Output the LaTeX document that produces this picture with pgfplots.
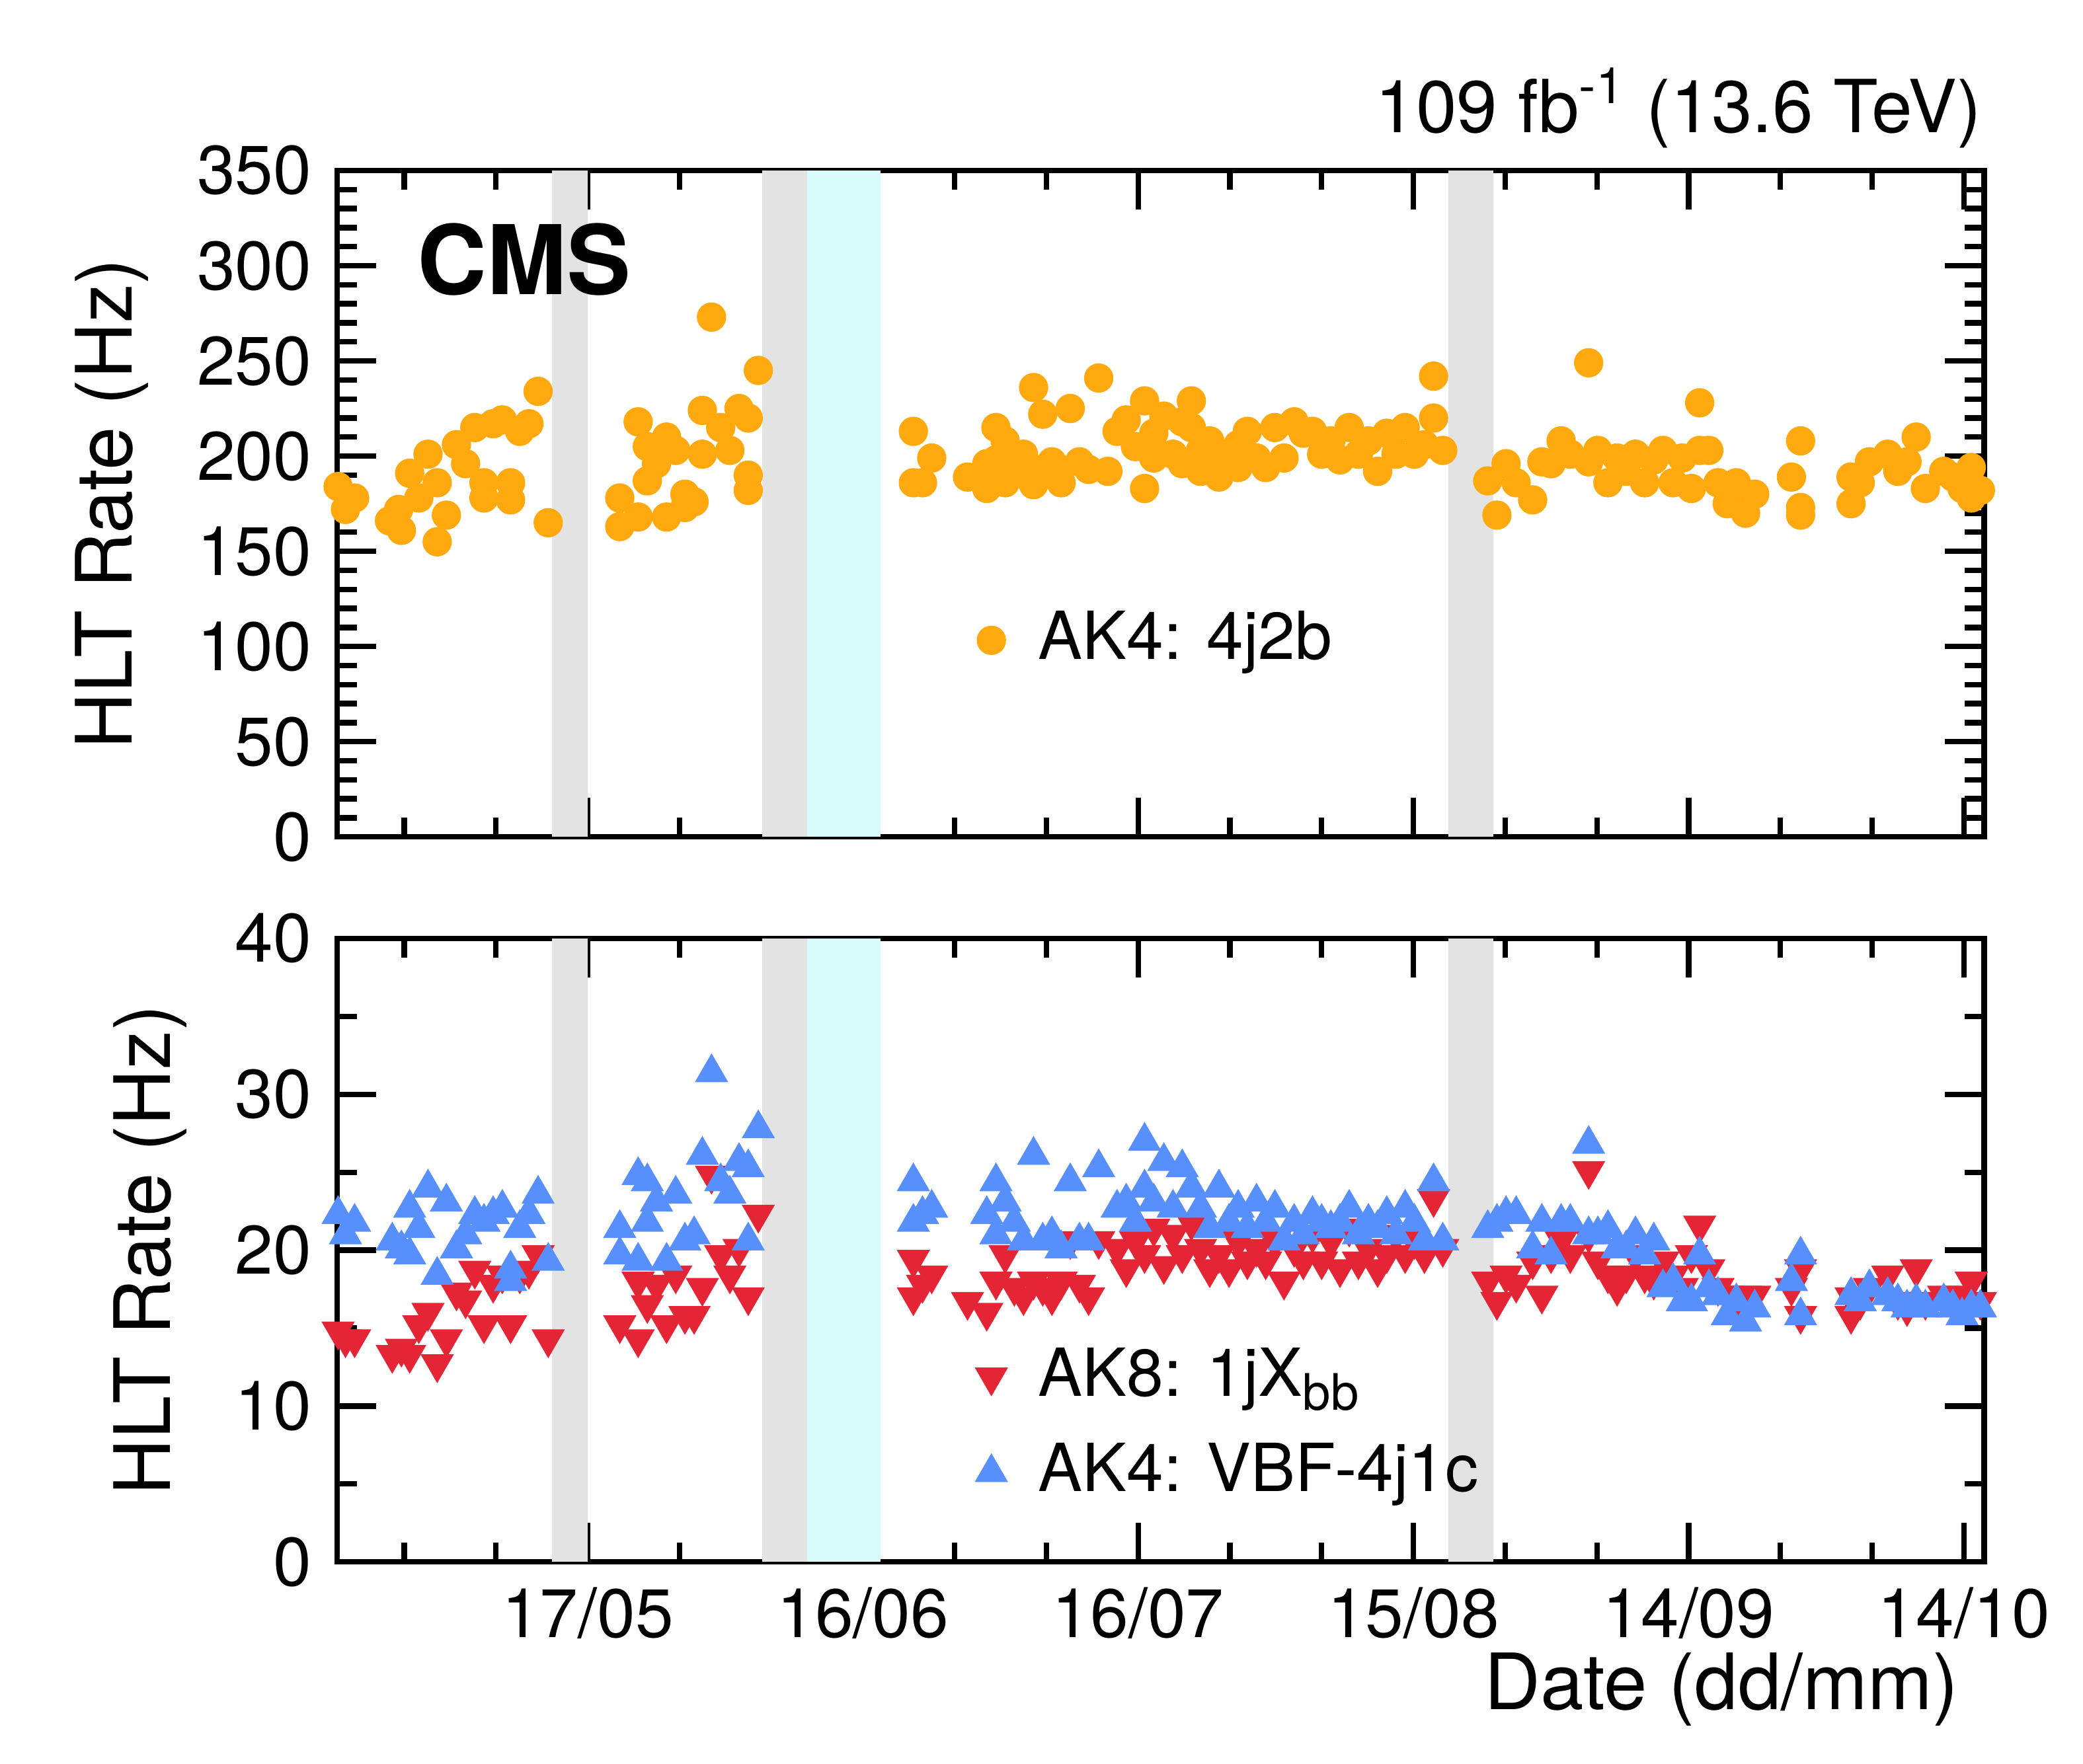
\documentclass[border=0pt]{standalone}
\usepackage{pgfplots}
\pgfplotsset{compat=1.18}
\usepackage{fontspec}
\setmainfont{TeX Gyre Heros}
\definecolor{corange}{HTML}{FFA90E}
\definecolor{cred}{HTML}{E42536}
\definecolor{cblue}{HTML}{5790FC}
\definecolor{ccyan}{HTML}{D8FCFC}
\begin{document}
\fontsize{15}{18}\selectfont
\begin{tikzpicture}
\path (0,0) rectangle (16,13.55);
\pgfplotsset{every axis/.append style={
  scale only axis, width=12.65cm, xmin=-27.3, xmax=152.2,
  xtick={0,30,60,90,120,150}, minor xtick={-20,-10,10,20,40,50,70,80,100,110,130,140},
  tick align=inside, major tick length=0.3cm, minor tick length=0.15cm,
  line width=1.2pt, tick style={line width=1.2pt, black},
  /pgf/number format/assume math mode=true,
  ticklabel style={font=\fontsize{15}{18}\selectfont},
  label style={font=\fontsize{17}{20}\selectfont},
  ylabel style={yshift=0.0cm},
  legend style={draw=none, fill=none, font=\fontsize{14.5}{17}\selectfont, cells={anchor=west}, row sep=4pt},
  legend cell align=left,
  clip mode=individual,
}}
\begin{axis}[at={(2.59cm,7.12cm)}, anchor=south west, height=5.12cm,
  ymin=0, ymax=350, ytick={0,50,...,350}, minor y tick num=4,
  xticklabels={}, ylabel={HLT Rate (Hz)},
  legend style={at={(0.38,0.295)}, anchor=west}]
\fill[gray!22] (axis cs:-3.9,0) rectangle (axis cs:0,350);
\fill[gray!22] (axis cs:19,0) rectangle (axis cs:23.9,350);
\fill[ccyan] (axis cs:23.9,0) rectangle (axis cs:31.9,350);
\fill[gray!22] (axis cs:93.8,0) rectangle (axis cs:98.7,350);
\addplot[only marks, mark=*, mark size=2.6pt, color=corange] coordinates {
(-27.2,184)(-26.4,172)(-25.4,178)(-21.6,166)(-20.6,172)(-20.3,161)(-19.4,191)(-18.4,178)(-17.4,201)(-16.4,186)(-16.4,155)(-15.4,169)(-14.3,206)(-13.3,196)(-12.3,215)(-11.3,186)(-11.3,178)(-10.3,217)(-9.3,219)(-8.4,186)(-8.4,177)(-7.4,213)(-6.4,217)(-5.4,234)(-4.3,165)
(3.5,163)(3.5,178)(5.5,218)(5.5,168)(6.5,205)(6.5,187)(7.5,196)(8.6,210)(8.6,168)(9.6,203)(10.6,180)(10.6,173)(11.6,176)(12.5,224)(12.5,201)(13.5,273)(14.5,215)(15.5,203)(16.5,225)(17.5,220)(17.5,190)(17.5,182)(18.6,245)
(35.5,213)(35.5,186)(36.5,186)(37.5,199)(41.4,189)(43.5,183)(43.5,196)(44.5,215)(44.5,198)(45.5,208)(45.5,186)(46.5,194)(47.5,201)(48.6,185)(48.6,236)(49.6,222)(49.6,193)(50.6,197)(51.6,186)(51.6,193)(52.6,225)(53.6,197)(54.6,193)(55.7,241)(56.7,192)(57.7,213)(58.7,219)(59.7,205)(60.7,229)(60.7,183)(61.7,212)(61.7,199)(62.8,221)(63.8,201)(64.8,218)(64.8,196)(65.8,229)(65.8,215)(66.8,203)(66.8,192)(67.8,208)(68.8,189)(68.8,201)(69.9,199)(70.9,206)(70.9,194)(71.9,213)(72.9,199)(73.9,194)(74.9,215)(75.9,199)(77,218)(78,212)(79,213)(80,201)(81,208)(82,198)(83,215)(84,201)(85.1,208)(86.1,192)(87.1,212)(88.1,201)(89.1,215)(90.1,201)(91.2,206)(92.2,242)(92.2,220)(93.2,203)
(98.1,187)(99.1,169)(100.1,196)(101.2,186)(103,177)(104,197)(105,196)(106.1,208)(107.1,201)(109.1,249)(109.1,197)(110.1,203)(111.2,186)(112.2,199)(113.2,192)(114.2,201)(115.2,186)(116.2,198)(117.2,203)(118.3,186)(119.3,199)(120.3,183)(121.2,228)(121.2,203)(122.2,203)(123.2,186)(124.2,175)(125.2,186)(126.2,170)(127.2,180)(131.2,189)(132.2,208)(132.2,173)(132.2,169)(137.7,189)(137.7,175)(138.7,186)(139.7,197)(141.7,201)(142.8,192)(143.8,197)(144.8,210)(145.8,183)(147.8,192)(148.8,189)(149.8,183)(150.8,194)(151.8,182)(150.8,178)
};
\addlegendentry{\hspace{0.2cm}AK4: 4j2b}
\node[anchor=north west, inner sep=0pt, font=\fontsize{21}{24}\selectfont\bfseries] at (rel axis cs:0.047,0.925) {CMS};
\node[anchor=south east, inner sep=0pt, font=\fontsize{16}{19}\selectfont] at (rel axis cs:1,1.03) {109 fb$^{\mbox{\fontsize{11}{13}\selectfont -1}}$ (13.6 TeV)};
\end{axis}
\begin{axis}[at={(2.59cm,1.55cm)}, anchor=south west, height=4.79cm,
  ymin=0, ymax=40, ytick={0,10,20,30,40}, minor y tick num=1,
  xticklabels={17/05,16/06,16/07,15/08,14/09,14/10}, ylabel={HLT Rate (Hz)},
  xlabel={Date (dd/mm)}, xlabel style={at={(1,0)}, anchor=north east, yshift=-0.5cm},
  legend style={at={(0.38,0.22)}, anchor=west}]
\fill[gray!22] (axis cs:-3.9,0) rectangle (axis cs:0,40);
\fill[gray!22] (axis cs:19,0) rectangle (axis cs:23.9,40);
\fill[ccyan] (axis cs:23.9,0) rectangle (axis cs:31.9,40);
\fill[gray!22] (axis cs:93.8,0) rectangle (axis cs:98.7,40);
\addplot[only marks, mark=triangle*, mark size=3pt, mark options={rotate=180}, color=cred] coordinates {
(-27.2,14.8)(-26.4,14.3)(-25.4,14.3)(-21.3,13.3)(-20.3,13.7)(-19.4,13.3)(-18.4,15.2)(-17.4,16.0)(-16.4,12.7)(-15.4,14.3)(-14.3,17.3)(-13.3,16.8)(-12.3,18.7)(-11.3,15.2)(-10.3,17.8)(-9.3,18.4)(-8.4,15.2)(-7.4,18.4)(-6.4,18.7)(-5.4,19.7)(-4.3,14.3)
(3.5,15.2)(5.5,14.3)(5.5,18.0)(6.5,16.5)(7.5,17.8)(8.6,15.2)(9.6,18.4)(10.6,15.8)(11.6,15.8)(12.5,17.6)(13.5,24.8)(14.5,19.7)(15.5,18.4)(16.5,20.1)(17.5,17.0)(18.6,22.3)
(35.5,19.4)(35.5,17.0)(36.5,17.8)(37.5,18.4)(41.4,16.7)(43.5,16.0)(44.5,18.0)(45.5,19.7)(46.5,17.6)(47.5,17.0)(48.6,18.0)(49.6,17.6)(50.6,17.0)(51.6,18.0)(52.6,20.6)(53.6,17.8)(54.6,17.0)(55.7,20.6)(57.7,20.1)(58.7,18.8)(59.7,20.6)(60.7,19.7)(61.7,21.4)(62.8,19.0)(63.8,21.0)(64.8,19.7)(65.8,21.8)(66.8,20.1)(67.8,18.8)(68.8,19.7)(69.9,18.8)(70.9,20.6)(71.9,19.3)(72.9,20.1)(73.9,19.3)(74.9,20.6)(75.9,18.0)(77,20.1)(78,19.3)(79,21.0)(80,19.3)(81,20.6)(82,18.8)(83,21.4)(84,19.3)(85.1,20.1)(86.1,18.8)(87.1,19.7)(88.1,21.0)(89.1,19.7)(90.1,20.6)(91.2,19.7)(92.2,23.3)(93.2,20.1)
(98.1,18.0)(99.1,16.7)(100.1,18.4)(101.2,17.8)(103,19.3)(104,17.1)(105,19.7)(106.1,20.6)(107.1,19.7)(109.1,25.1)(109.1,21.0)(110.1,19.3)(111.2,18.4)(112.2,17.6)(113.2,18.4)(114.2,19.7)(115.2,18.4)(116.2,18.0)(117.2,19.3)(118.3,18.4)(119.3,17.6)(120.3,19.7)(121.2,21.6)(122.2,18.8)(123.2,17.6)(124.2,17.1)(125.2,16.7)(126.2,17.1)(127.2,17.1)(131.2,17.6)(132.2,18.8)(132.2,15.8)(137.7,15.8)(137.7,17.0)(138.7,16.7)(139.7,17.6)(141.7,18.4)(142.8,16.7)(143.8,16.3)(144.8,18.8)(145.8,16.7)(147.8,17.1)(148.8,16.7)(149.8,17.1)(150.8,18.0)(151.8,16.7)
};
\addlegendentry{\hspace{0.2cm}AK8: 1jX$_{\mbox{\fontsize{11}{13}\selectfont bb}}$}
\addplot[only marks, mark=triangle*, mark size=3pt, color=cblue] coordinates {
(-27.2,22.3)(-26.4,21.0)(-25.4,21.8)(-21.3,20.6)(-20.3,20.1)(-19.4,22.7)(-19.4,19.7)(-18.4,21.4)(-17.4,24.0)(-16.4,18.4)(-15.4,23.1)(-14.3,20.1)(-13.3,21.0)(-12.3,22.3)(-11.3,21.8)(-10.3,22.3)(-9.3,22.7)(-8.4,18.8)(-8.4,18.0)(-7.4,21.4)(-6.4,22.3)(-5.4,23.6)(-4.3,19.3)
(3.5,21.4)(3.5,19.7)(5.5,24.8)(5.5,19.3)(6.5,21.8)(6.5,24.4)(7.5,23.1)(8.6,19.3)(9.6,23.6)(10.6,20.6)(11.6,21.0)(12.5,26.1)(13.5,31.4)(14.5,24.4)(15.5,23.6)(16.5,25.7)(17.5,25.3)(17.5,20.6)(18.6,27.8)
(35.5,24.4)(35.5,21.8)(36.5,22.3)(37.5,22.7)(43.5,22.3)(44.5,24.4)(44.5,21.0)(45.5,23.1)(46.5,21.8)(47.5,20.6)(48.6,26.1)(49.6,20.6)(50.6,21.0)(51.6,20.1)(52.6,24.4)(53.6,20.6)(54.6,20.6)(55.7,25.3)(57.7,22.7)(58.7,23.1)(59.7,21.8)(60.7,27.0)(60.7,24.0)(61.7,23.1)(62.8,25.7)(63.8,22.7)(64.8,25.3)(65.8,24.0)(66.8,22.7)(67.8,21.4)(68.8,24.0)(69.9,21.8)(70.9,22.7)(71.9,21.4)(72.9,23.1)(73.9,21.8)(74.9,22.7)(75.9,20.6)(77,21.8)(78,21.0)(79,22.3)(80,21.8)(81,21.4)(82,21.8)(83,22.7)(84,21.0)(85.1,21.8)(86.1,21.4)(87.1,22.3)(88.1,21.0)(89.1,22.7)(90.1,21.8)(91.2,20.6)(92.2,24.4)(93.2,20.6)
(98.1,21.4)(99.1,21.8)(100.1,22.3)(101.2,22.3)(103,20.1)(104,21.8)(105,19.7)(106.1,21.8)(107.1,21.8)(109.1,26.8)(109.1,21.0)(110.1,21.0)(111.2,21.4)(112.2,20.1)(113.2,20.1)(114.2,21.0)(115.2,19.7)(116.2,20.6)(117.2,17.6)(118.3,18.0)(119.3,16.7)(120.3,16.7)(121.2,19.7)(122.2,17.6)(123.2,17.1)(124.2,15.8)(125.2,16.7)(126.2,15.4)(127.2,16.3)(131.2,18.0)(132.2,19.7)(132.2,15.8)(137.7,17.1)(138.7,16.7)(139.7,17.6)(141.7,17.1)(142.8,16.7)(143.8,16.3)(144.8,16.7)(145.8,16.3)(147.8,16.7)(148.8,16.3)(149.8,15.8)(150.8,16.3)(151.8,16.3)
};
\addlegendentry{\hspace{0.2cm}AK4: VBF-4j1c}
\end{axis}
\end{tikzpicture}
\end{document}
